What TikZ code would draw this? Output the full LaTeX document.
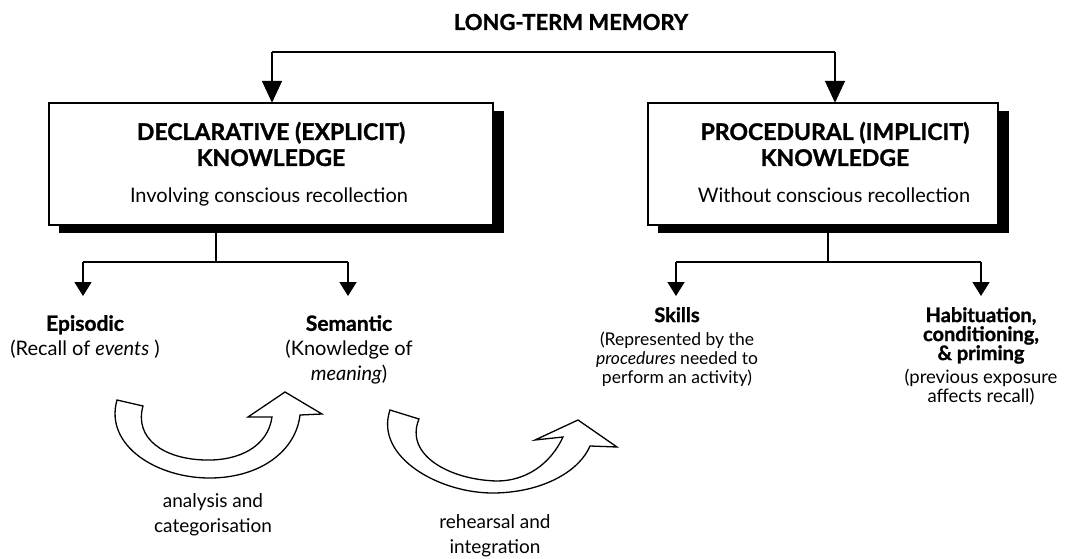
\documentclass[tikz,border=0pt]{standalone}
\usepackage{fontspec}
\setmainfont{Lato}[BoldFeatures={FakeBold=1.2}]
\usetikzlibrary{arrows.meta,calc}
\begin{document}
\begin{tikzpicture}[x=1pt,y=-1pt,
  conn/.style={line width=1.7pt,draw=black},
  bigtip/.style={-{Triangle[width=20pt,length=22pt]}},
  smalltip/.style={-{Triangle[width=17pt,length=14pt]}},
  kbox/.style={draw=black,line width=2pt,fill=white,inner sep=0pt},
  shadowfill/.style={fill=black},
  headtext/.style={font=\bfseries\fontsize{23}{26}\selectfont,align=center,inner sep=0pt},
  subtext/.style={font=\fontsize{20}{24}\selectfont,inner sep=0pt,anchor=base},
  leftcol/.style={font=\fontsize{20}{25}\selectfont,align=center,inner sep=0pt,anchor=north},
  rightcol/.style={font=\fontsize{17.5}{19}\selectfont,align=center,inner sep=0pt,anchor=north},
  cyclearrow/.style={draw=black,line width=1.3pt,fill=white,line join=miter},
  note/.style={font=\fontsize{19}{25.5}\selectfont,align=center,inner sep=0pt,anchor=north}
]
\useasboundingbox (0,0) rectangle (1071,559);

% title
\node[font=\bfseries\fontsize{22}{26}\selectfont,anchor=base,inner sep=0pt] (ltm) at (571,30) {LONG-TERM MEMORY};

% knowledge boxes with solid drop shadows
\node[minimum width=444pt,minimum height=122pt,inner sep=0pt] (decl) at (271,164) {};
\node[minimum width=350pt,minimum height=122pt,inner sep=0pt] (proc) at (823,164) {};
\fill[shadowfill] ($(decl.south west)+(10,8)$) rectangle ($(decl.north east)+(11,8)$);
\fill[shadowfill] ($(proc.south west)+(10,8)$) rectangle ($(proc.north east)+(11,8)$);
\draw[kbox] (decl.south west) rectangle (decl.north east);
\draw[kbox] (proc.south west) rectangle (proc.north east);

\node[headtext,anchor=base] (declhead) at (271,140) {DECLARATIVE (EXPLICIT)};
\node[headtext,anchor=base] (declhead2) at (271,166) {KNOWLEDGE};
\node[subtext] (declsub) at (269,202) {Involving conscious recollection};
\node[headtext,anchor=base] (prochead) at (835,140) {PROCEDURAL (IMPLICIT)};
\node[headtext,anchor=base] (prochead2) at (835,166) {KNOWLEDGE};
\node[subtext] (procsub) at (834,202) {Without conscious recollection};

% long-term memory split
\coordinate (splitL) at (272,52);
\coordinate (splitR) at (835,52);
\draw[conn] (splitL) -- (splitR);
\draw[conn,bigtip] (splitL) -- (splitL |- decl.north);
\draw[conn,bigtip] (splitR) -- (splitR |- proc.north);

% memory types
\node[leftcol] (episodic) at (85,315)
  {{\bfseries\fontsize{21}{25}\selectfont Episodic}\\(Recall of \textit{events} )};
\node[leftcol] (semantic) at (349,315)
  {{\bfseries\fontsize{21}{25}\selectfont Semantic}\\(Knowledge of\\\textit{meaning})};
\node[rightcol] (skills) at (677,307)
  {{\bfseries\fontsize{20}{24}\selectfont Skills}\\[4pt](Represented by the\\\textit{procedures} needed to\\perform an activity)};
\node[rightcol,font=\fontsize{18.5}{19}\selectfont] (habit) at (981,307)
  {{\bfseries\fontsize{20}{20}\selectfont Habituation,}\\{\bfseries\fontsize{20}{20}\selectfont conditioning,}\\{\bfseries\fontsize{20}{20}\selectfont \& priming}\\[4pt](previous exposure\\affects recall)};

% branches from the boxes
\coordinate (declstem) at (216,262);
\coordinate (procstem) at (828,262);
\coordinate (epB) at (83,262);
\coordinate (seB) at (348,262);
\coordinate (skB) at (676,262);
\coordinate (haB) at (981,262);
\draw[conn] (declstem |- decl.south) -- (declstem);
\draw[conn] (procstem |- proc.south) -- (procstem);
\draw[conn] (epB) -- (seB);
\draw[conn] (skB) -- (haB);
\draw[conn,smalltip,shorten >=19pt] (epB) -- (epB |- episodic.north);
\draw[conn,smalltip,shorten >=19pt] (seB) -- (seB |- semantic.north);
\draw[conn,smalltip,shorten >=11pt] (skB) -- (skB |- skills.north);
\draw[conn,smalltip,shorten >=11pt] (haB) -- (haB |- habit.north);

% cycle arrow: episodic to semantic
\draw[cyclearrow] (117,400) .. controls (104,446) and (158,479) .. (212,478)
  .. controls (262,477) and (296,450) .. (300,415)
  -- (322,414) -- (285,392) -- (248,417) -- (272,417)
  .. controls (268,446) and (240,461) .. (205,460)
  .. controls (163,459) and (134,438) .. (143,406) -- cycle;
\node[note] (analysis) at (213,493) {analysis and\\categorisation};

% cycle arrow: semantic to skills
\draw[cyclearrow] (390,410) .. controls (374,457) and (440,494) .. (495,493)
  .. controls (545,492) and (580,470) .. (590,446)
  -- (617,447) -- (578,420) -- (535,440) -- (563,437)
  .. controls (550,465) and (525,481) .. (497,481)
  .. controls (450,480) and (404,455) .. (419,419) -- cycle;
\node[note] (rehearsal) at (495,514) {rehearsal and\\integration};
\end{tikzpicture}
\end{document}
